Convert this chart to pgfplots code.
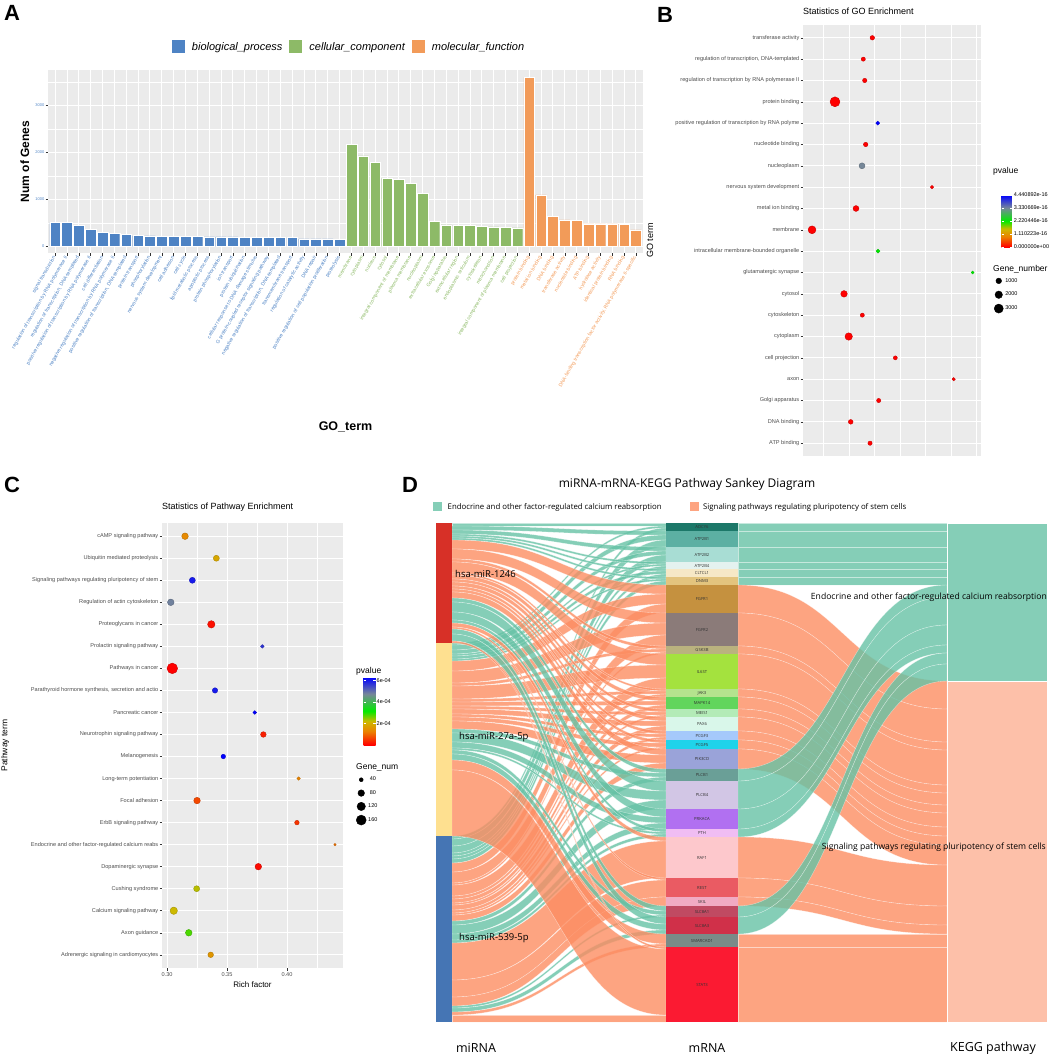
\documentclass[border=0pt]{standalone}
\usepackage{fontspec}
\setmainfont{Liberation Sans}
\newfontfamily\osans{Open Sans}
\usepackage{pgfplots}
\usepackage{pgfplotstable}
\pgfplotsset{compat=1.18}

\definecolor{ggbg}{HTML}{EBEBEB}
\definecolor{gg30}{HTML}{4D4D4D}
\definecolor{ggtick}{HTML}{333333}
\definecolor{barB}{HTML}{4E83C4}
\definecolor{barG}{HTML}{8DBA67}
\definecolor{barO}{HTML}{F29B59}
\definecolor{flowT}{HTML}{66C2A5}
\definecolor{flowS}{HTML}{FC8D62}
\colorlet{nodeT}{flowT!80!white}
\colorlet{nodeS}{flowS!55!white}
\colorlet{legS}{flowS!80!white}
\definecolor{mirA}{HTML}{D73027}
\definecolor{mirB}{HTML}{FEE090}
\definecolor{mirC}{HTML}{4575B4}
% mRNA node colours
\definecolor{nADCY6}{HTML}{1C7869}
\definecolor{nATPa}{HTML}{5CB0A3}
\definecolor{nATPb}{HTML}{A8DDD4}
\definecolor{nATPc}{HTML}{E4F2EF}
\definecolor{nCLT}{HTML}{F6E8C6}
\definecolor{nDNM}{HTML}{E3C47E}
\definecolor{nFGa}{HTML}{C5913F}
\definecolor{nFGb}{HTML}{8B7B79}
\definecolor{nGSK}{HTML}{BAB27E}
\definecolor{nIL}{HTML}{A4E23E}
\definecolor{nJAK}{HTML}{B4E38E}
\definecolor{nMAP}{HTML}{62D55C}
\definecolor{nMEI}{HTML}{B3EBB7}
\definecolor{nPAX}{HTML}{D9F7EA}
\definecolor{nPCa}{HTML}{A5C9FB}
\definecolor{nPCb}{HTML}{1FD3EA}
\definecolor{nPIK}{HTML}{9AA3D9}
\definecolor{nPLa}{HTML}{6A9F97}
\definecolor{nPLb}{HTML}{D2C6E5}
\definecolor{nPRK}{HTML}{B170F1}
\definecolor{nPTH}{HTML}{F0BDF3}
\definecolor{nRAF}{HTML}{FDC8CC}
\definecolor{nREST}{HTML}{EA5B63}
\definecolor{nSKIL}{HTML}{F1ABC3}
\definecolor{nSLa}{HTML}{C04A62}
\definecolor{nSLb}{HTML}{D03049}
\definecolor{nSMA}{HTML}{7A8B88}
\definecolor{nSTAT}{HTML}{FB1A32}

\pgfplotsset{
  colormap={pv}{rgb255(0cm)=(255,0,0); rgb255(4cm)=(235,130,0); rgb255(7cm)=(205,185,0);
    rgb255(10cm)=(0,235,0); rgb255(15cm)=(119,136,153); rgb255(20cm)=(0,0,255)},
  ggdot/.style={scale only axis, anchor=north west,
    axis background/.style={fill=ggbg}, axis line style={draw=none},
    grid=both, major grid style={white, line width=0.9pt}, minor grid style={white, line width=0.45pt},
    tick align=outside, tick pos=left, major tick length=2.5pt, minor tick length=0pt,
    tick style={ggtick, line width=0.5pt},
    yticklabel style={font=\fontsize{5.6}{6}\selectfont, color=gg30, inner sep=1pt},
    ytick={1,...,20}, ymin=0.4, ymax=20.6, colormap name=pv, clip=false,
    legend style={draw=none, fill=none, font=\fontsize{5.5}{6}\selectfont, row sep=4.5pt, inner sep=0pt}},
  sqlegend/.style={legend image code/.code={\fill[##1] (0pt,-6.5pt) rectangle (13pt,6.5pt);
    \path[draw=none, fill=none] (0pt,0pt) rectangle (18pt,0.1pt);}},
}

% GO enrichment dots (p in units of 1e-16)
\pgfplotstableread{
y x n p
20 0.1457 567 0
19 0.1280 454 0
18 0.1308 510 0
17 0.0725 3596 0
16 0.1563 369 4.440892
15 0.1327 553 0
14 0.1255 1135 3.330669
13 0.2627 220 0
12 0.1137 1099 0
11 0.0275 2177 0
10 0.1569 350 2.220446
9 0.3425 120 2.220446
8 0.0902 1447 0
7 0.1261 433 0
6 0.0994 1929 0
5 0.1908 397 0
4 0.3053 200 0
3 0.1582 461 0
2 0.1033 638 0
1 0.1412 482 0
}\tabB

% KEGG pathway dots (p in units of 1e-4)
\pgfplotstableread{
y x n p
20 0.3150 79 1.4
19 0.3411 69 1.9
18 0.3211 69 6.0
17 0.3031 79 4.8
16 0.3369 95 0.15
15 0.3794 36 5.7
14 0.3044 178 0.0
13 0.3400 59 6.0
12 0.3731 36 6.3
11 0.3803 62 0.3
10 0.3469 47 6.3
9 0.4097 34 1.3
8 0.3250 79 0.7
7 0.4083 47 0.5
6 0.4400 25 1.1
5 0.3761 79 0.1
4 0.3247 69 2.3
3 0.3056 95 2.2
2 0.3181 79 2.8
1 0.3364 62 1.6
}\tabC

% Sankey: mRNA / links from miR-1246, miR-27a-5p, miR-539-5p / pathway (1 calcium, 2 pluripotency) / colour
\def\mlist{ADCY6/3/2/3/1/nADCY6, ATP2B1/4/5/7/1/nATPa, ATP2B2/4/4/7/1/nATPb, ATP2B4/2/2/3/1/nATPc,
  CLTCL1/2/3/3/1/nCLT, DNM3/2/2/4/1/nDNM, FGFR1/9/10/9/2/nFGa, FGFR2/10/12/11/2/nFGb,
  GSK3B/3/3/2/2/nGSK, IL6ST/11/13/11/2/nIL, JAK3/2/3/3/2/nJAK, MAPK14/4/4/4/2/nMAP,
  MEIS1/3/3/2/2/nMEI, PAX6/4/5/5/2/nPAX, PCGF3/3/3/3/2/nPCa, PCGF5/3/4/2/2/nPCb,
  PIK3CD/6/8/6/2/nPIK, PLCB1/4/4/4/1/nPLa, PLCB4/10/9/9/1/nPLb, PRKACA/8/6/6/1/nPRK,
  PTH/3/2/3/1/nPTH, RAF1/4/0/37/2/nRAF, REST/2/0/17/2/nREST, SKIL/0/0/9/2/nSKIL,
  SLC8A1/5/4/2/1/nSLa, SLC8A3/7/6/4/1/nSLb, SMARCAD1/0/10/3/2/nSMA, STAT3/2/66/7/2/nSTAT}

% ribbon between two columns: x0 x1 top0 bot0 top1 bot1 colour
\newcommand\band[7]{%
  \pgfmathsetmacro\xm{(#1+#2)/2}%
  \edef\tmp{\noexpand\fill[#7, fill opacity=0.8, draw=white, draw opacity=0.55, line width=0.35pt]
    (axis cs:#1,#3) .. controls (axis cs:\xm,#3) and (axis cs:\xm,#5) .. (axis cs:#2,#5)
    -- (axis cs:#2,#6) .. controls (axis cs:\xm,#6) and (axis cs:\xm,#4) .. (axis cs:#1,#4) -- cycle;}%
  \tmp}

\begin{document}
\begin{tikzpicture}
\useasboundingbox (0,0) rectangle (1056pt,-1059pt);

% ---------------- A ----------------
\begin{axis}[at={(48pt,-70pt)}, anchor=north west, scale only axis, width=595pt, height=183pt,
  xmin=0.4, xmax=50.6, ymin=-138, ymax=3755,
  axis background/.style={fill=ggbg}, axis line style={draw=none},
  grid=both, major grid style={white, line width=0.9pt}, minor grid style={white, line width=0.45pt},
  xtick={1,...,50}, ytick={0,1000,2000,3000}, yticklabels={0,1000,2000,3000},
  minor ytick={500,1500,2500,3500},
  tick align=outside, tick pos=left, major tick length=2.5pt, minor tick length=0pt, tick style={ggtick, line width=0.5pt},
  yticklabel style={font=\fontsize{4}{5}\selectfont, color=barB, inner sep=1pt},
  xticklabel style={rotate=60, anchor=east, font=\fontsize{5}{6}\selectfont, inner sep=1pt},
  xticklabels={\textcolor{barB}{signal transduction},
    \textcolor{barB}{regulation of transcription by RNA polymerase II},
    \textcolor{barB}{regulation of transcription, DNA-templated},
    \textcolor{barB}{positive regulation of transcription by RNA polymerase II},
    \textcolor{barB}{cell differentiation},
    \textcolor{barB}{negative regulation of transcription by RNA polymerase II},
    \textcolor{barB}{positive regulation of transcription, DNA-templated},
    \textcolor{barB}{protein transport},
    \textcolor{barB}{phosphorylation},
    \textcolor{barB}{nervous system development},
    \textcolor{barB}{cell adhesion},
    \textcolor{barB}{cell cycle},
    \textcolor{barB}{lipid metabolic process},
    \textcolor{barB}{apoptotic process},
    \textcolor{barB}{protein phosphorylation},
    \textcolor{barB}{ion transport},
    \textcolor{barB}{protein ubiquitination},
    \textcolor{barB}{cellular response to DNA damage stimulus},
    \textcolor{barB}{G protein-coupled receptor signaling pathway},
    \textcolor{barB}{negative regulation of transcription, DNA-templated},
    \textcolor{barB}{transmembrane transport},
    \textcolor{barB}{regulation of catalytic activity},
    \textcolor{barB}{DNA repair},
    \textcolor{barB}{positive regulation of cell population proliferation},
    \textcolor{barB}{proteolysis},
    \textcolor{barG}{membrane},
    \textcolor{barG}{cytoplasm},
    \textcolor{barG}{nucleus},
    \textcolor{barG}{cytosol},
    \textcolor{barG}{integral component of membrane},
    \textcolor{barG}{plasma membrane},
    \textcolor{barG}{nucleoplasm},
    \textcolor{barG}{extracellular exosome},
    \textcolor{barG}{Golgi apparatus},
    \textcolor{barG}{extracellular region},
    \textcolor{barG}{endoplasmic reticulum},
    \textcolor{barG}{cytoskeleton},
    \textcolor{barG}{mitochondrion},
    \textcolor{barG}{integral component of plasma membrane},
    \textcolor{barG}{cell projection},
    \textcolor{barO}{protein binding},
    \textcolor{barO}{metal ion binding},
    \textcolor{barO}{DNA binding},
    \textcolor{barO}{transferase activity},
    \textcolor{barO}{nucleotide binding},
    \textcolor{barO}{ATP binding},
    \textcolor{barO}{hydrolase activity},
    \textcolor{barO}{identical protein binding},
    \textcolor{barO}{RNA binding},
    \textcolor{barO}{DNA-binding transcription factor activity, RNA polymerase II-specific}},
  ylabel={Num of Genes},
  ylabel style={at={(axis description cs:-0.039,0.5)}, anchor=center, font=\fontsize{12}{14}\selectfont\bfseries},
  xlabel={GO\_term},
  xlabel style={at={(axis description cs:0.5,-0.951)}, anchor=center, font=\fontsize{12.5}{14}\selectfont\bfseries},
  legend columns=3,
  legend style={at={(axis description cs:0.506,1.126)}, anchor=center, draw=none, fill=none,
    font=\fontsize{11}{13}\selectfont\itshape, /tikz/every even column/.append style={column sep=5pt}},
]
\addplot[ybar, bar shift=0pt, bar width=0.9, fill=barB, draw=white, line width=0.3pt, forget plot] coordinates {
 (1,510) (2,510) (3,454) (4,369) (5,298) (6,277) (7,255) (8,234) (9,227) (10,220)
 (11,213) (12,213) (13,213) (14,206) (15,206) (16,206) (17,199) (18,199) (19,199) (20,191)
 (21,191) (22,163) (23,163) (24,163) (25,156)};
\addplot[ybar, bar shift=0pt, bar width=0.9, fill=barG, draw=white, line width=0.3pt, forget plot] coordinates {
 (26,2177) (27,1929) (28,1787) (29,1447) (30,1426) (31,1340) (32,1135) (33,539) (34,461)
 (35,454) (36,454) (37,433) (38,418) (39,404) (40,397)};
\addplot[ybar, bar shift=0pt, bar width=0.9, fill=barO, draw=white, line width=0.3pt, forget plot] coordinates {
 (41,3596) (42,1099) (43,638) (44,567) (45,553) (46,482) (47,482) (48,482) (49,475) (50,355)};
\addlegendimage{sqlegend, fill=barB, draw=none}\addlegendentry{biological\_process}
\addlegendimage{sqlegend, fill=barG, draw=none}\addlegendentry{cellular\_component}
\addlegendimage{sqlegend, fill=barO, draw=none}\addlegendentry{molecular\_function}
\end{axis}

% ---------------- B ----------------
\begin{axis}[ggdot, at={(803pt,-25pt)}, width=178pt, height=431pt,
  xmin=0.0098, xmax=0.3588, xtick={0.1,0.2,0.3}, minor xtick={0.05,0.15,0.25,0.35},
  xticklabels={}, xtick style={draw=none},
  yticklabels={ATP binding, DNA binding, Golgi apparatus, axon, cell projection, cytoplasm,
    cytoskeleton, cytosol, glutamatergic synapse, intracellular membrane-bounded organelle,
    membrane, metal ion binding, nervous system development, nucleoplasm, nucleotide binding,
    positive regulation of transcription by RNA polyme, protein binding,
    regulation of transcription by RNA polymerase II, {regulation of transcription, DNA-templated},
    transferase activity},
  ylabel={GO term}, ylabel style={at={(axis description cs:-0.86,0.5)}, anchor=center, font=\fontsize{9}{10}\selectfont},
  title={Statistics of GO Enrichment},
  title style={at={(axis description cs:0,1)}, anchor=south west, inner sep=0pt, yshift=4pt, font=\fontsize{9}{10}\selectfont},
  point meta min=0, point meta max=4.440892,
  colorbar,
  colorbar style={at={(parent axis.north east)}, anchor=north west, xshift=12pt, yshift=-170pt,
    scale only axis, width=10pt, height=52pt,
    ytick={0,1.110223,2.220446,3.330669,4.440892},
    yticklabels={0.000000e+00,1.110223e-16,2.220446e-16,3.330669e-16,4.440892e-16},
    yticklabel style={font=\fontsize{5.5}{6}\selectfont, inner sep=1pt, xshift=1pt},
    axis line style={draw=none}, tick style={white, line width=0.4pt}, major tick length=2pt},
  legend style={at={(axis description cs:1.073,0.4176)}, anchor=north west},
]
\addplot[scatter, only marks, mark=*, scatter src=explicit, forget plot,
  visualization depends on={sqrt(1.5+0.0064*\thisrow{n})\as\ms},
  scatter/@pre marker code/.append style={/tikz/mark size=\ms}]
  table[x=x, y=y, meta=p] {\tabB};
\addlegendimage{only marks, mark=*, black, mark size=2.83pt}\addlegendentry{1000}
\addlegendimage{only marks, mark=*, black, mark size=3.74pt}\addlegendentry{2000}
\addlegendimage{only marks, mark=*, black, mark size=4.55pt}\addlegendentry{3000}
\end{axis}
\node[anchor=base west, inner sep=0pt, font=\fontsize{8.5}{9}\selectfont] at (993pt,-174pt) {pvalue};
\node[anchor=base west, inner sep=0pt, font=\fontsize{8.5}{9}\selectfont] at (993pt,-271pt) {Gene\_number};

% ---------------- C ----------------
\begin{axis}[ggdot, at={(162pt,-523pt)}, width=181pt, height=445pt,
  xmin=0.2958, xmax=0.4467, xtick={0.30,0.35,0.40}, minor xtick={0.325,0.375,0.425},
  xticklabels={0.30,0.35,0.40},
  xticklabel style={font=\fontsize{5.6}{6}\selectfont, color=gg30, inner sep=1.5pt},
  yticklabels={Adrenergic signaling in cardiomyocytes, Axon guidance, Calcium signaling pathway,
    Cushing syndrome, Dopaminergic synapse, Endocrine and other factor-regulated calcium reabs,
    ErbB signaling pathway, Focal adhesion, Long-term potentiation, Melanogenesis,
    Neurotrophin signaling pathway, Pancreatic cancer,
    {Parathyroid hormone synthesis, secretion and actio}, Pathways in cancer,
    Prolactin signaling pathway, Proteoglycans in cancer, Regulation of actin cytoskeleton,
    Signaling pathways regulating pluripotency of stem, Ubiquitin mediated proteolysis,
    cAMP signaling pathway},
  xlabel={Rich factor}, xlabel style={at={(axis description cs:0.5,-0.038)}, anchor=center, font=\fontsize{8}{9}\selectfont},
  ylabel={Pathway term}, ylabel style={at={(axis description cs:-0.867,0.5)}, anchor=center, font=\fontsize{8.5}{9}\selectfont},
  title={Statistics of Pathway Enrichment},
  title style={at={(axis description cs:0,1)}, anchor=south west, inner sep=0pt, yshift=5pt, font=\fontsize{9}{10}\selectfont},
  point meta min=0, point meta max=6.3,
  colorbar,
  colorbar style={at={(parent axis.north east)}, anchor=north west, xshift=12pt, yshift=-154pt,
    scale only axis, width=12pt, height=68pt,
    ytick={2,4,6}, yticklabels={2e-04,4e-04,6e-04},
    yticklabel style={font=\fontsize{5.5}{6}\selectfont, inner sep=1pt},
    axis line style={draw=none}, tick style={white, line width=0.4pt}, major tick length=2.5pt},
  legend style={at={(axis description cs:1.072,0.434)}, anchor=north west, row sep=4pt},
]
\addplot[scatter, only marks, mark=*, scatter src=explicit, forget plot,
  visualization depends on={sqrt(0.175*\thisrow{n}-3)\as\ms},
  scatter/@pre marker code/.append style={/tikz/mark size=\ms}]
  table[x=x, y=y, meta=p] {\tabC};
\addlegendimage{only marks, mark=*, black, mark size=2pt}\addlegendentry{40}
\addlegendimage{only marks, mark=*, black, mark size=3.3pt}\addlegendentry{80}
\addlegendimage{only marks, mark=*, black, mark size=4.2pt}\addlegendentry{120}
\addlegendimage{only marks, mark=*, black, mark size=5pt}\addlegendentry{160}
\end{axis}
\node[anchor=base west, inner sep=0pt, font=\fontsize{8.5}{9}\selectfont] at (356pt,-673pt) {pvalue};
\node[anchor=base west, inner sep=0pt, font=\fontsize{8.5}{9}\selectfont] at (356pt,-769pt) {Gene\_num};

% ---------------- D ----------------
\begin{axis}[at={(420pt,-470pt)}, anchor=north west, scale only axis, width=636pt, height=589pt,
  xmin=420, xmax=1056, ymin=470, ymax=1059, y dir=reverse, hide axis, clip=false]
\def\cA{523}\def\cB{643}\def\cC{836}\def\cM{523}\def\cT{523}\def\cS{681}
\foreach \nm/\wa/\wb/\wc/\pw/\col in \mlist {%
  \ifnum\pw=1 \def\fc{flowT}\else\def\fc{flowS}\fi
  \pgfmathsetmacro\mtop{\cM}%
  \ifnum\wa>0 \pgfmathsetmacro\sa{\cA+\wa}\pgfmathsetmacro\ta{\cM+\wa}%
    \band{452}{666}{\cA}{\sa}{\cM}{\ta}{\fc}\xdef\cA{\sa}\xdef\cM{\ta}\fi
  \ifnum\wb>0 \pgfmathsetmacro\sa{\cB+\wb}\pgfmathsetmacro\ta{\cM+\wb}%
    \band{452}{666}{\cB}{\sa}{\cM}{\ta}{\fc}\xdef\cB{\sa}\xdef\cM{\ta}\fi
  \ifnum\wc>0 \pgfmathsetmacro\sa{\cC+\wc}\pgfmathsetmacro\ta{\cM+\wc}%
    \band{452}{666}{\cC}{\sa}{\cM}{\ta}{\fc}\xdef\cC{\sa}\xdef\cM{\ta}\fi
  \pgfmathsetmacro\mbot{\cM}%
  \ifnum\pw=1 \pgfmathsetmacro\rb{\cT+\mbot-\mtop}%
    \band{738}{947}{\mtop}{\mbot}{\cT}{\rb}{\fc}\xdef\cT{\rb}%
  \else \pgfmathsetmacro\rb{\cS+\mbot-\mtop}%
    \band{738}{947}{\mtop}{\mbot}{\cS}{\rb}{\fc}\xdef\cS{\rb}\fi
}
% nodes
\fill[mirA] (axis cs:436,523) rectangle (axis cs:452,643);
\fill[mirB] (axis cs:436,643) rectangle (axis cs:452,836);
\fill[mirC] (axis cs:436,836) rectangle (axis cs:452,1022);
\fill[nodeT, draw=white, line width=0.5pt] (axis cs:947,523) rectangle (axis cs:1047,681);
\fill[nodeS, draw=white, line width=0.5pt] (axis cs:947,681) rectangle (axis cs:1047,1022);
\def\cM{523}
\foreach \nm/\wa/\wb/\wc/\pw/\col in \mlist {%
  \pgfmathsetmacro\mbot{\cM+\wa+\wb+\wc}%
  \edef\tmp{\noexpand\fill[\col] (axis cs:666,\cM) rectangle (axis cs:738,\mbot);
    \noexpand\node[font=\noexpand\osans\noexpand\fontsize{4.2}{5}\noexpand\selectfont, text=black!80, inner sep=0pt]
      at (axis cs:702,{(\cM+\mbot)/2}) {\nm};}%
  \tmp\xdef\cM{\mbot}%
}
\node[font=\osans\fontsize{12}{14}\selectfont] at (axis cs:687,484) {miRNA-mRNA-KEGG Pathway Sankey Diagram};
\node[anchor=west, inner sep=0pt, font=\osans\fontsize{7.8}{9}\selectfont] at (axis cs:433,507)
  {\textcolor{nodeT}{\rule[-1.6pt]{9pt}{9pt}}\hspace{5.5pt}Endocrine and other factor-regulated calcium reabsorption};
\node[anchor=west, inner sep=0pt, font=\osans\fontsize{7.8}{9}\selectfont] at (axis cs:690,507)
  {\textcolor{legS}{\rule[-1.6pt]{9pt}{9pt}}\hspace{4pt}Signaling pathways regulating pluripotency of stem cells};
\node[anchor=west, font=\osans\fontsize{9.5}{11}\selectfont, inner sep=0pt] at (axis cs:455,574) {hsa-miR-1246};
\node[anchor=west, font=\osans\fontsize{9.5}{11}\selectfont, inner sep=0pt] at (axis cs:459,737) {hsa-miR-27a-5p};
\node[anchor=west, font=\osans\fontsize{9.5}{11}\selectfont, inner sep=0pt] at (axis cs:459,938) {hsa-miR-539-5p};
\node[anchor=east, font=\osans\fontsize{8.6}{10}\selectfont, inner sep=0pt] at (axis cs:1047,597) {Endocrine and other factor-regulated calcium reabsorption};
\node[anchor=east, font=\osans\fontsize{8.6}{10}\selectfont, inner sep=0pt] at (axis cs:1046,847) {Signaling pathways regulating pluripotency of stem cells};
\node[font=\osans\fontsize{12.5}{14}\selectfont] at (axis cs:476,1048) {miRNA};
\node[font=\osans\fontsize{12.5}{14}\selectfont] at (axis cs:707,1048) {mRNA};
\node[font=\osans\fontsize{12.5}{14}\selectfont] at (axis cs:993,1048) {KEGG pathway};
\end{axis}

% panel letters
\node[anchor=north west, inner sep=0pt, font=\fontsize{22}{22}\selectfont\bfseries] at (4pt,-5pt) {A};
\node[anchor=north west, inner sep=0pt, font=\fontsize{22}{22}\selectfont\bfseries] at (657pt,-7pt) {B};
\node[anchor=north west, inner sep=0pt, font=\fontsize{22}{22}\selectfont\bfseries] at (4pt,-477pt) {C};
\node[anchor=north west, inner sep=0pt, font=\fontsize{22}{22}\selectfont\bfseries] at (402pt,-477pt) {D};
\end{tikzpicture}
\end{document}
